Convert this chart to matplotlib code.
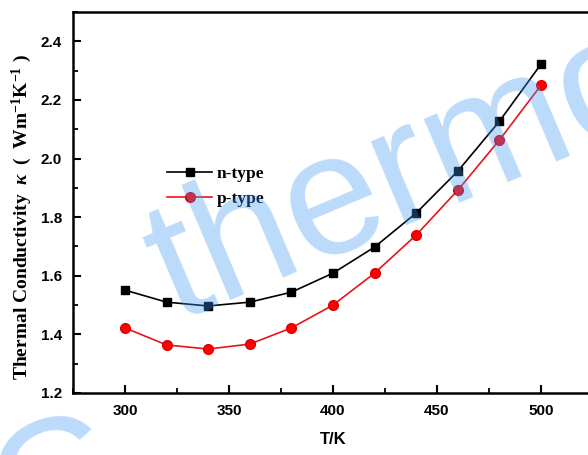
import matplotlib
matplotlib.use("Agg")
import matplotlib.pyplot as plt
from matplotlib.ticker import MultipleLocator

T = [300, 320, 340, 360, 380, 400, 420, 440, 460, 480, 500]
n_type = [1.551, 1.510, 1.497, 1.510, 1.544, 1.609, 1.698, 1.814, 1.957, 2.127, 2.322]
p_type = [1.422, 1.364, 1.350, 1.367, 1.422, 1.500, 1.609, 1.739, 1.892, 2.063, 2.250]
x_ticks = [300, 350, 400, 450, 500]
y_ticks = [1.2, 1.4, 1.6, 1.8, 2.0, 2.2, 2.4]

plt.rcParams['mathtext.fontset'] = 'custom'
plt.rcParams['mathtext.rm'] = 'Liberation Serif:bold'
plt.rcParams['mathtext.it'] = 'Liberation Serif:italic:bold'
plt.rcParams['mathtext.bf'] = 'Liberation Serif:bold'

fig = plt.figure(figsize=(5.88, 4.55), dpi=100)
ax = fig.add_axes([73/588, 62/455, 520/588, 381/455])

ax.plot(T, n_type, color='black', lw=1.2, marker='s', ms=6.3, label='n-type', zorder=3)
ax.plot(T, p_type, color='#e8141c', lw=1.2, marker='o', ms=7, mfc='#ff0000', mec='#e00000', label='p-type', zorder=3)

ax.set_xlim(275, 525)
ax.set_ylim(1.2, 2.5)
ax.set_xticks(x_ticks)
ax.set_yticks(y_ticks)
ax.set_yticklabels([f"{v:.1f}" for v in y_ticks])
ax.xaxis.set_minor_locator(MultipleLocator(25))
ax.yaxis.set_minor_locator(MultipleLocator(0.1))
ax.tick_params(which='major', direction='in', length=6, width=1.5, labelsize=11, pad=8)
ax.tick_params(which='minor', direction='in', length=3.5, width=1.3)
ax.tick_params(axis='x', which='both', top=False)
ax.tick_params(axis='y', which='both', right=False)
for lab in ax.get_xticklabels() + ax.get_yticklabels():
    lab.set_fontweight('bold')
    lab.set_fontfamily('Liberation Sans')
for s in ax.spines.values():
    s.set_linewidth(1.8)

ax.set_xlabel('T/K', fontsize=12, fontweight='bold', family='Liberation Sans', labelpad=10)
ax.set_ylabel(r"Thermal Conductivity  $\mathit{\kappa}$  (  Wm$^{-1}$K$^{-1}$ )",
              fontsize=14, fontweight='bold', family='Liberation Serif')
ax.yaxis.set_label_coords(-0.075, 0.462)

leg = ax.legend(loc='upper left', bbox_to_anchor=(0.181, 0.595), frameon=False,
                prop={'family': 'Liberation Serif', 'weight': 'bold', 'size': 12.5},
                handlelength=2.6, handletextpad=0.25, labelspacing=0.5,
                borderpad=0, borderaxespad=0)

# watermark
fig.text(176/588, 1 - 322/455, 'thermo', color='#3f97f5', alpha=0.35, fontsize=124,
         rotation=23, rotation_mode='anchor', ha='left', va='baseline',
         family='Liberation Sans', zorder=10)
fig.text(58/588, 1 - 490/455, 'C', color='#3f97f5', alpha=0.35, fontsize=124,
         rotation=23, rotation_mode='anchor', ha='center', va='center',
         family='Liberation Sans', zorder=10)

fig.savefig('out.png', dpi=100)
